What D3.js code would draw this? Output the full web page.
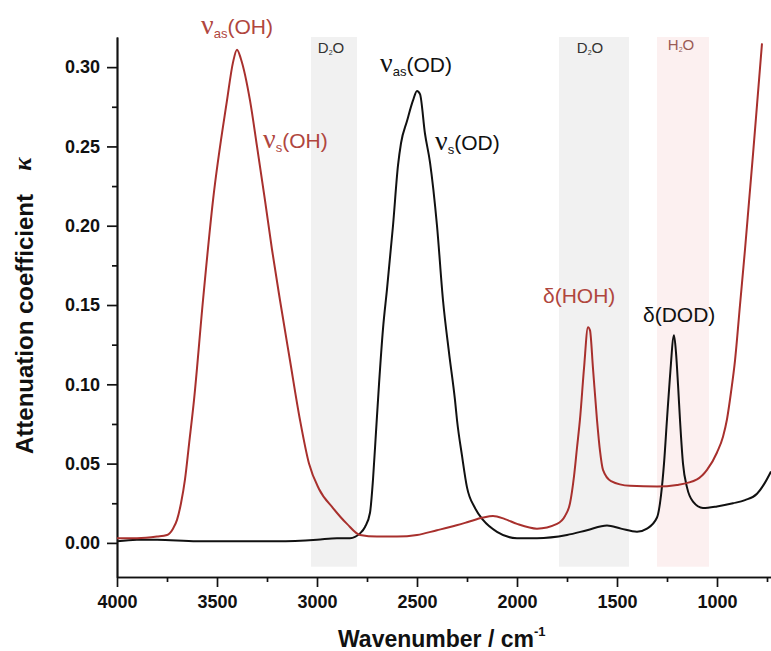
<!DOCTYPE html>
<html>
<head>
<meta charset="utf-8">
<script src="https://cdn.jsdelivr.net/npm/d3@7"></script>
<style>
  body { margin: 0; background: #fff; }
  svg { display: block; }
  .axis path, .axis line { stroke: #111; stroke-width: 1.7px; }
  .axis text { font-family: "Liberation Sans", Arial, sans-serif; font-weight: bold; font-size: 18px; fill: #111; }
</style>
</head>
<body>
<script>
// H2O spectrum (red)
var wnH2O = [4000, 3900, 3800, 3750, 3720, 3700, 3680, 3660, 3640, 3615, 3570, 3520, 3450, 3420, 3400,
             3380, 3335, 3300, 3260, 3225, 3185, 3135, 3085, 3040, 2990, 2920, 2850, 2785, 2700, 2600,
             2500, 2400, 2335, 2250, 2170, 2120, 2060, 2000, 1900, 1800, 1760, 1735, 1715, 1700, 1685,
             1665, 1645, 1635, 1620, 1600, 1585, 1570, 1530, 1435, 1300, 1200, 1100, 1050, 1000, 970,
             950, 930, 910, 885, 860, 840, 820, 800, 775];
var kH2O = [0.003, 0.003, 0.004, 0.005, 0.009, 0.0145, 0.025, 0.040, 0.062, 0.090, 0.153, 0.216, 0.279, 0.303, 0.311,
            0.305, 0.279, 0.250, 0.216, 0.185, 0.153, 0.115, 0.0775, 0.050, 0.034, 0.022, 0.012, 0.005, 0.004, 0.004,
            0.005, 0.008, 0.010, 0.013, 0.016, 0.017, 0.015, 0.012, 0.009, 0.012, 0.017, 0.025, 0.042, 0.060, 0.078,
            0.110, 0.136, 0.134, 0.110, 0.0775, 0.058, 0.046, 0.039, 0.036, 0.0355, 0.0365, 0.040, 0.046, 0.057, 0.067,
            0.078, 0.095, 0.115, 0.150, 0.185, 0.215, 0.245, 0.276, 0.315];

// D2O spectrum (black)
var wnD2O = [4000, 3900, 3800, 3600, 3400, 3200, 3000, 2900, 2835, 2785, 2760, 2735, 2720, 2705, 2690,
             2670, 2650, 2620, 2595, 2580, 2550, 2520, 2500, 2485, 2460, 2435, 2400, 2370, 2340, 2310,
             2300, 2275, 2250, 2210, 2170, 2100, 2000, 1900, 1750, 1650, 1550, 1480, 1400, 1350, 1300,
             1280, 1265, 1250, 1235, 1215, 1205, 1195, 1185, 1170, 1150, 1120, 1070, 1000, 920, 860,
             800, 760, 730];
var kD2O = [0.001, 0.002, 0.002, 0.001, 0.001, 0.001, 0.002, 0.003, 0.003, 0.006, 0.010, 0.019, 0.040, 0.070, 0.100,
            0.135, 0.160, 0.200, 0.238, 0.252, 0.266, 0.279, 0.285, 0.283, 0.258, 0.240, 0.200, 0.153, 0.120, 0.090,
            0.0775, 0.055, 0.035, 0.022, 0.0145, 0.007, 0.003, 0.003, 0.005, 0.008, 0.011, 0.009, 0.007, 0.009, 0.016,
            0.030, 0.050, 0.078, 0.105, 0.131, 0.120, 0.100, 0.0775, 0.050, 0.035, 0.026, 0.022, 0.023, 0.025, 0.027,
            0.031, 0.038, 0.045];

// shaded absorption regions
var bandFrom = [3030, 1790, 1300];
var bandTo = [2800, 1440, 1040];
var bandFill = ["#f1f1f1", "#f1f1f1", "#fcf0f0"];

var yMajor = [0, 0.05, 0.10, 0.15, 0.20, 0.25, 0.30];
var yMinor = [0.025, 0.075, 0.125, 0.175, 0.225, 0.275];
var xMajor = [4000, 3500, 3000, 2500, 2000, 1500, 1000];
var xMinor = [3750, 3250, 2750, 2250, 1750, 1250, 750];

var width = 771,
    height = 651;

var red = "#a8302d",
    redText = "#b0463e";

var svg = d3.select("body")
            .append("svg")
            .attr("width", width)
            .attr("height", height);

var x = d3.scaleLinear().domain([4000, 730]).range([117, 771]);
var y = d3.scaleLinear().domain([-0.0215, 0.319]).range([577, 37]);

// bands
svg.selectAll("rect.band")
   .data(bandFrom)
   .enter()
   .append("rect")
   .attr("class", "band")
   .attr("x", function(d) { return x(d); })
   .attr("width", function(d, i) { return x(bandTo[i]) - x(d); })
   .attr("y", y(0.319))
   .attr("height", y(-0.015) - y(0.319))
   .attr("fill", function(d, i) { return bandFill[i]; });

// axes
svg.append("g")
   .attr("class", "axis")
   .attr("transform", "translate(117,0)")
   .call(d3.axisLeft(y).tickValues(yMajor).tickSize(10).tickSizeOuter(0)
           .tickPadding(7).tickFormat(d3.format(".2f")));
svg.append("g")
   .attr("class", "axis")
   .attr("transform", "translate(117,0)")
   .call(d3.axisLeft(y).tickValues(yMinor).tickSize(5).tickSizeOuter(0).tickFormat(""));

svg.append("g")
   .attr("class", "axis")
   .attr("transform", "translate(0,577)")
   .call(d3.axisBottom(x).tickValues(xMajor).tickSize(10).tickSizeOuter(0)
           .tickPadding(8).tickFormat(d3.format("d")));
svg.append("g")
   .attr("class", "axis")
   .attr("transform", "translate(0,577)")
   .call(d3.axisBottom(x).tickValues(xMinor).tickSize(5).tickSizeOuter(0).tickFormat(""));

// curves
var line = d3.line()
             .x(function(d) { return x(d[0]); })
             .y(function(d) { return y(d[1]); })
             .curve(d3.curveMonotoneX);

svg.append("path")
   .datum(d3.zip(wnD2O, kD2O))
   .attr("d", line)
   .attr("fill", "none")
   .attr("stroke", "#111")
   .attr("stroke-width", 2);

svg.append("path")
   .datum(d3.zip(wnH2O, kH2O))
   .attr("d", line)
   .attr("fill", "none")
   .attr("stroke", red)
   .attr("stroke-width", 2);

// axis titles
svg.append("text")
   .attr("x", 338)
   .attr("y", 647)
   .attr("font-family", "Liberation Sans, Arial, sans-serif")
   .attr("font-weight", "bold")
   .attr("font-size", "23px")
   .attr("fill", "#111")
   .text("Wavenumber / cm")
   .append("tspan")
   .attr("font-size", "13px")
   .attr("dy", -11)
   .text("-1");

svg.append("text")
   .attr("transform", "translate(33,324) rotate(-90)")
   .attr("text-anchor", "middle")
   .attr("font-family", "Liberation Sans, Arial, sans-serif")
   .attr("font-weight", "bold")
   .attr("font-size", "24px")
   .attr("fill", "#111")
   .text("Attenuation coefficient");

svg.append("text")
   .attr("transform", "translate(31,164) rotate(-90)")
   .attr("text-anchor", "middle")
   .attr("font-family", "Liberation Serif, serif")
   .attr("font-style", "italic")
   .attr("font-weight", "bold")
   .attr("font-size", "25px")
   .attr("fill", "#111")
   .text("κ");

// peak labels
function nuLabel(wn, k, sub, rest, color, anchor) {
  var t = svg.append("text")
     .attr("x", x(wn))
     .attr("y", y(k))
     .attr("text-anchor", anchor)
     .attr("font-family", "Liberation Sans, Arial, sans-serif")
     .attr("font-size", "21px")
     .attr("fill", color);
  t.append("tspan").attr("font-family", "Liberation Serif, serif").attr("font-size", "28px").text("ν");
  t.append("tspan").attr("font-size", "13px").attr("dy", 4).text(sub);
  t.append("tspan").attr("dy", -4).text(rest);
}

nuLabel(3400, 0.321, "as", "(OH)", redText, "middle");
nuLabel(3270, 0.249, "s", "(OH)", redText, "start");
nuLabel(2505, 0.297, "as", "(OD)", "#111", "middle");
nuLabel(2410, 0.248, "s", "(OD)", "#111", "start");

function plainLabel(wn, k, txt, color) {
  svg.append("text")
     .attr("x", x(wn))
     .attr("y", y(k))
     .attr("font-family", "Liberation Sans, Arial, sans-serif")
     .attr("font-size", "21px")
     .attr("fill", color)
     .text(txt);
}
plainLabel(1870, 0.151, "δ(HOH)", redText);
plainLabel(1370, 0.139, "δ(DOD)", "#111");

function bandLabel(wn, k, mol, color) {
  var t = svg.append("text")
     .attr("x", x(wn))
     .attr("y", y(k))
     .attr("text-anchor", "middle")
     .attr("font-family", "Liberation Sans, Arial, sans-serif")
     .attr("font-size", "15px")
     .attr("fill", color);
  t.append("tspan").text(mol);
  t.append("tspan").attr("font-size", "7px").attr("dy", 2).text("2");
  t.append("tspan").attr("dy", -2).text("O");
}
bandLabel(2930, 0.309, "D", "#333");
bandLabel(1635, 0.309, "D", "#333");
bandLabel(1180, 0.311, "H", "#9a5a55");
</script>
</body>
</html>
